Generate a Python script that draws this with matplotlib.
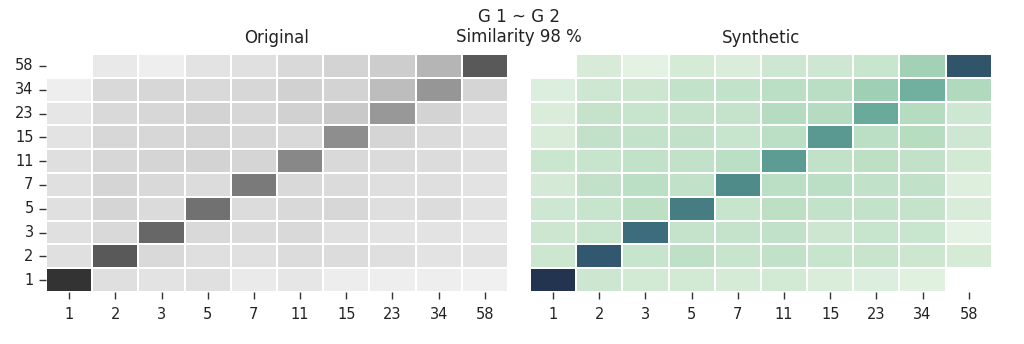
import numpy as np
import matplotlib
matplotlib.use("Agg")
import matplotlib.pyplot as plt
import seaborn as sns
from matplotlib.colors import LinearSegmentedColormap

labels = ["1", "2", "3", "5", "7", "11", "15", "23", "34", "58"]
nan = np.nan

# rows listed from top (58) to bottom (1), columns 1 .. 58
original = np.array([
    [nan, 0.05, 0.02, 0.08, 0.09, 0.13, 0.16, 0.19, 0.31, 0.78],
    [0.02, 0.13, 0.14, 0.13, 0.14, 0.17, 0.16, 0.27, 0.47, 0.15],
    [0.06, 0.13, 0.14, 0.16, 0.14, 0.17, 0.21, 0.46, 0.16, 0.09],
    [0.08, 0.14, 0.14, 0.15, 0.14, 0.13, 0.51, 0.15, 0.12, 0.09],
    [0.10, 0.14, 0.15, 0.16, 0.15, 0.54, 0.13, 0.12, 0.11, 0.09],
    [0.09, 0.15, 0.13, 0.11, 0.61, 0.13, 0.12, 0.10, 0.10, 0.08],
    [0.09, 0.15, 0.12, 0.66, 0.11, 0.13, 0.14, 0.10, 0.11, 0.08],
    [0.09, 0.13, 0.71, 0.13, 0.12, 0.13, 0.09, 0.08, 0.08, 0.06],
    [0.09, 0.78, 0.13, 0.10, 0.09, 0.11, 0.11, 0.10, 0.08, 0.08],
    [0.97, 0.10, 0.08, 0.09, 0.04, 0.06, 0.03, 0.02, 0.02, 0.01],
])

synthetic = np.array([
    [nan, 0.12, 0.03, 0.13, 0.10, 0.17, 0.17, 0.20, 0.37, 0.86],
    [0.08, 0.17, 0.18, 0.23, 0.23, 0.27, 0.28, 0.38, 0.53, 0.32],
    [0.10, 0.22, 0.21, 0.22, 0.22, 0.30, 0.30, 0.55, 0.30, 0.17],
    [0.11, 0.24, 0.23, 0.24, 0.21, 0.27, 0.61, 0.27, 0.29, 0.17],
    [0.19, 0.21, 0.24, 0.24, 0.27, 0.60, 0.24, 0.26, 0.24, 0.15],
    [0.14, 0.24, 0.27, 0.24, 0.66, 0.27, 0.27, 0.24, 0.24, 0.07],
    [0.17, 0.21, 0.26, 0.70, 0.21, 0.26, 0.23, 0.23, 0.22, 0.11],
    [0.18, 0.21, 0.75, 0.22, 0.22, 0.24, 0.18, 0.21, 0.20, 0.03],
    [0.18, 0.85, 0.21, 0.25, 0.21, 0.24, 0.21, 0.21, 0.18, 0.13],
    [1.00, 0.18, 0.15, 0.15, 0.13, 0.15, 0.10, 0.08, 0.05, nan],
])

grey_cmap = LinearSegmentedColormap.from_list("grey", ["#f2f2f2", "#2e2e2e"])
green_cmap = LinearSegmentedColormap.from_list("green", [
    (0.0, "#e8f4e6"), (0.15, "#d2e9d4"), (0.3, "#b5dcc0"), (0.45, "#8cc4ab"),
    (0.55, "#6aaa9b"), (0.65, "#508e8a"), (0.75, "#3d6e7c"), (0.85, "#31586e"),
    (1.0, "#22344f")])

plt.rcParams["font.family"] = "DejaVu Sans"
fig = plt.figure(figsize=(10.24, 3.44), dpi=100)
ax1 = fig.add_axes([0.045, 0.151, 0.451, 0.692])
ax2 = fig.add_axes([0.5176, 0.151, 0.451, 0.692])

for ax, data, cmap, name in [(ax1, original, grey_cmap, "Original"),
                             (ax2, synthetic, green_cmap, "Synthetic")]:
    sns.heatmap(data, ax=ax, cmap=cmap, vmin=0, vmax=1, cbar=False,
                linewidths=1.2, linecolor="white",
                xticklabels=labels, yticklabels=labels[::-1])
    ax.set_title(name, fontsize=12, pad=8, color="#222222")
    ax.tick_params(axis="both", labelsize=10.5, length=5, width=1,
                   color="#333333", labelcolor="#222222", pad=4)
    ax.tick_params(axis="x", rotation=0, pad=5.5)
    ax.tick_params(axis="y", rotation=0)

ax2.set_yticks([])

fig.text(0.507, 0.951, "G 1 ~ G 2", ha="center", va="center", fontsize=12,
         color="#222222")
fig.text(0.507, 0.892, "Similarity 98 %", ha="center", va="center",
         fontsize=12, color="#222222")

fig.savefig("out.png", dpi=100)
